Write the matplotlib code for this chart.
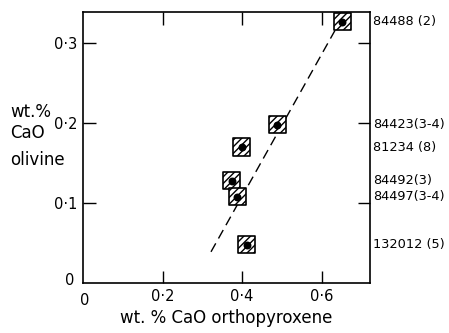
import matplotlib.pyplot as plt
import numpy as np

# CaO in coexisting orthopyroxene / olivine
samples = ['84488 (2)', '84423(3-4)', '81234 (8)', '84492(3)', '84497(3-4)', '132012 (5)']
cao_opx = [0.652, 0.489, 0.399, 0.374, 0.388, 0.412]
cao_ol = [0.327, 0.198, 0.170, 0.128, 0.108, 0.048]

# dashed trend line end points
trend_x = [0.322, 0.634]
trend_y = [0.039, 0.316]

xticks = [0.2, 0.4, 0.6]
yticks = [0.1, 0.2, 0.3]

plt.rcParams['font.family'] = ['DejaVu Sans']
plt.rcParams['hatch.linewidth'] = 1.0

fig = plt.figure(figsize=(4.49, 3.33), dpi=100)
ax = fig.add_axes([83/449, 50/333, 287/449, 271/333])

ax.plot(trend_x, trend_y, color='black', lw=1.0, dashes=(7, 4))
ax.scatter(cao_opx, cao_ol, marker='s', s=155, facecolor='white',
           edgecolor='black', hatch='/////', linewidth=1.2, zorder=3, clip_on=False)
ax.scatter(cao_opx, cao_ol, marker='o', s=22, color='black', zorder=4, clip_on=False)

ax.set_xlim(0, 0.722)
ax.set_ylim(0, 0.339)

ax.set_xticks(xticks)
ax.set_yticks(yticks)
ax.set_xticklabels([f'{t:.1f}'.replace('.', '·') for t in xticks], fontsize=10.5)
ax.set_yticklabels([f'{t:.1f}'.replace('.', '·') for t in yticks], fontsize=10.5)
ax.tick_params(direction='in', length=9, width=1.0, top=True, right=True, pad=4)
for s in ax.spines.values():
    s.set_linewidth(1.2)

# lone zeros at the origin
ax.text(-0.022, 0.003, '0', ha='right', va='center', fontsize=10.5, clip_on=False)
ax.text(0.004, -0.013, '0', ha='center', va='top', fontsize=10.5, clip_on=False)

ax.set_xlabel('wt. % CaO orthopyroxene', fontsize=12, labelpad=4)
fig.text(10/449, 1 - 112/333, 'wt.%', fontsize=12, ha='left', va='center')
fig.text(10/449, 1 - 133/333, 'CaO', fontsize=12, ha='left', va='center')
fig.text(10/449, 1 - 160/333, 'olivine', fontsize=12, ha='left', va='center')

# sample numbers beside the right axis
for name, y in zip(samples, cao_ol):
    ax.annotate(name, xy=(1.0, y), xycoords=('axes fraction', 'data'),
                xytext=(2, 0), textcoords='offset points', ha='left', va='center',
                fontsize=9.3)

fig.savefig('out.png', dpi=100)
